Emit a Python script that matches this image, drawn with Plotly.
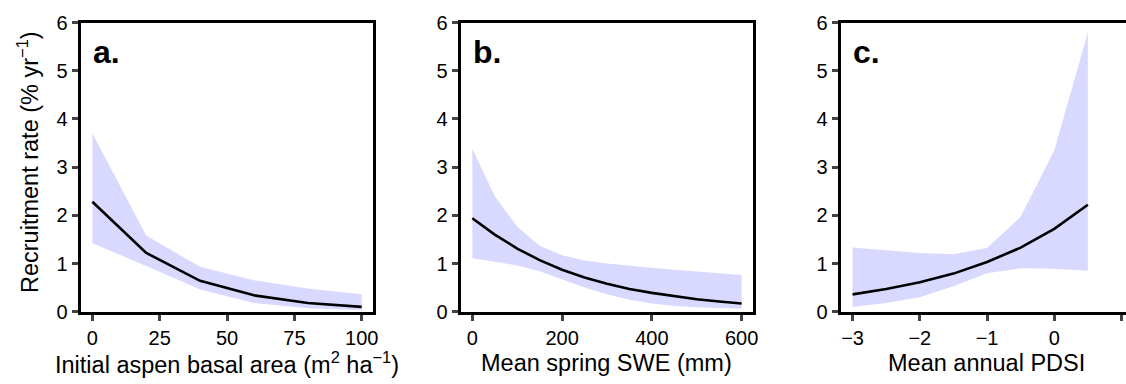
import plotly.graph_objects as go

# ---- data ----
ba_x = [0, 20, 40, 60, 80, 100]
ba_mean = [2.28, 1.22, 0.64, 0.34, 0.18, 0.10]
ba_upper = [3.70, 1.58, 0.93, 0.65, 0.48, 0.36]
ba_lower = [1.42, 0.95, 0.46, 0.18, 0.07, 0.03]

swe_x = [0, 50, 100, 150, 200, 250, 300, 350, 400, 450, 500, 550, 600]
swe_mean = [1.94, 1.60, 1.31, 1.07, 0.87, 0.71, 0.58, 0.47, 0.39, 0.32, 0.26, 0.21, 0.17]
swe_upper = [3.38, 2.40, 1.76, 1.37, 1.17, 1.06, 1.00, 0.95, 0.91, 0.87, 0.83, 0.79, 0.76]
swe_lower = [1.11, 1.04, 0.96, 0.84, 0.67, 0.50, 0.36, 0.25, 0.17, 0.12, 0.09, 0.07, 0.06]

pdsi_x = [-3, -2.5, -2, -1.5, -1, -0.5, 0, 0.5]
pdsi_mean = [0.36, 0.47, 0.61, 0.79, 1.03, 1.33, 1.72, 2.22]
pdsi_upper = [1.33, 1.27, 1.22, 1.19, 1.32, 1.97, 3.35, 5.80]
pdsi_lower = [0.10, 0.18, 0.30, 0.53, 0.80, 0.90, 0.89, 0.85]

panels = [
    dict(x=ba_x, m=ba_mean, u=ba_upper, l=ba_lower, label="a.",
         xtitle="Initial aspen basal area (m<sup>2</sup> ha<sup>−1</sup>)",
         ticks=[0, 25, 50, 75, 100], rng=[-4.4, 104.3]),
    dict(x=swe_x, m=swe_mean, u=swe_upper, l=swe_lower, label="b.",
         xtitle="Mean spring SWE (mm)",
         ticks=[0, 200, 400, 600], rng=[-26.3, 626]),
    dict(x=pdsi_x, m=pdsi_mean, u=pdsi_upper, l=pdsi_lower, label="c.",
         xtitle="Mean annual PDSI",
         ticks=[-3, -2, -1, 0, 1], rng=[-3.18, 1.067]),
]
ytitle = "Recruitment rate (% yr<sup>−1</sup>)"
yticks = [0, 1, 2, 3, 4, 5, 6]

W, H = 1126, 384
FONT = "Liberation Sans, Arial, sans-serif"
doms = [(80.5, 373.3), (460.5, 753.3), (840.5, 1126)]
ydom = [1 - 311.7 / H, 1 - 22.5 / H]
fill_col = "rgba(0,0,255,0.15)"

fig = go.Figure()
layout = dict(width=W, height=H, margin=dict(l=0, r=0, t=0, b=0),
              paper_bgcolor="white", plot_bgcolor="white", showlegend=False,
              font=dict(family=FONT, size=20, color="black"))
annotations = []
for i, p in enumerate(panels):
    n = "" if i == 0 else str(i + 1)
    xa, ya = "x" + n, "y" + n
    fig.add_trace(go.Scatter(x=p["x"], y=p["u"], mode="lines", line=dict(width=0, color=fill_col),
                             xaxis=xa, yaxis=ya, hoverinfo="skip"))
    fig.add_trace(go.Scatter(x=p["x"], y=p["l"], mode="lines", line=dict(width=0, color=fill_col),
                             fill="tonexty", fillcolor=fill_col, xaxis=xa, yaxis=ya, hoverinfo="skip"))
    fig.add_trace(go.Scatter(x=p["x"], y=p["m"], mode="lines", line=dict(width=2.6, color="black"),
                             xaxis=xa, yaxis=ya))
    d0, d1 = doms[i]
    layout["xaxis" + n] = dict(domain=[d0 / W, d1 / W], range=p["rng"], anchor=ya,
                               tickvals=p["ticks"], ticks="outside", ticklen=6, tickwidth=2.5,
                               showline=True, linewidth=3, linecolor="black", mirror=True,
                               showgrid=False, zeroline=False, automargin=False,
                               tickfont=dict(size=20, family=FONT))
    layout["yaxis" + n] = dict(domain=ydom, range=[0, 6], anchor=xa,
                               tickvals=yticks, ticks="outside", ticklen=6, tickwidth=2.5,
                               showline=True, linewidth=3, linecolor="black",
                               mirror=(i < 2), showgrid=False, zeroline=False, automargin=False,
                               tickfont=dict(size=20, family=FONT))
    annotations.append(dict(text=p["xtitle"], xref="paper", yref="paper",
                            x=((d0 + (doms[0][1] - doms[0][0]) / 2) if i == 2 else (d0 + d1) / 2) / W,
                            y=1 - 363 / H, xanchor="center", yanchor="middle", showarrow=False,
                            font=dict(size=23.5, family=FONT)))
    annotations.append(dict(text="<b>%s</b>" % p["label"], xref="paper", yref="paper",
                            x=(d0 + 10) / W, y=1 - 52 / H, xanchor="left", yanchor="middle",
                            showarrow=False, font=dict(size=32, family=FONT)))
annotations.append(dict(text=ytitle, xref="paper", yref="paper", x=28 / W, y=1 - 162 / H,
                        xanchor="center", yanchor="middle", textangle=-90, showarrow=False,
                        font=dict(size=23.5, family=FONT)))
layout["annotations"] = annotations
fig.update_layout(**layout)
fig.write_html("out.html", config={"displayModeBar": False},
               post_script="document.body.style.margin='0';document.body.style.padding='0';")
